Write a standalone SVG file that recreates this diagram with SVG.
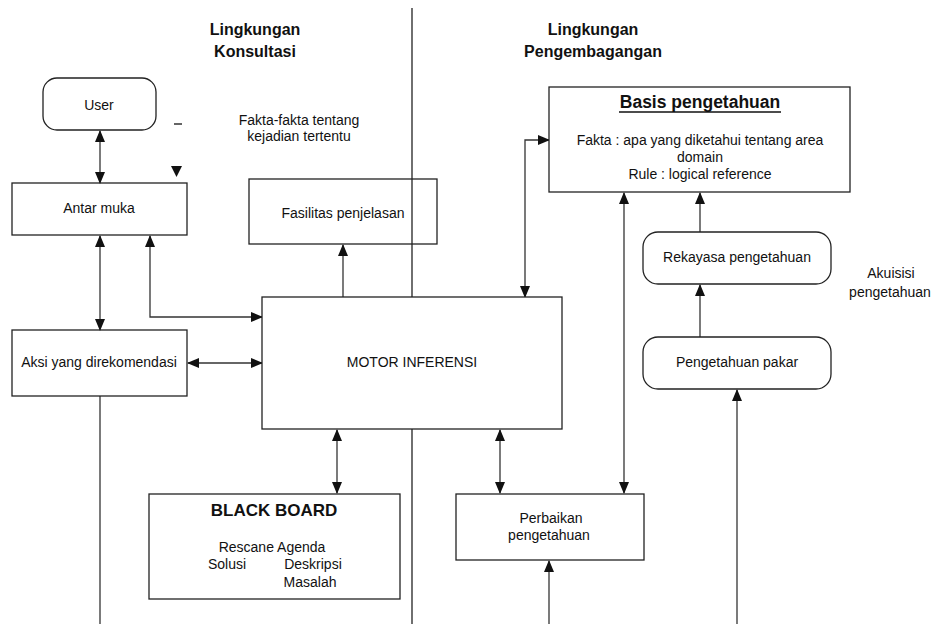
<svg xmlns="http://www.w3.org/2000/svg" width="932" height="625" viewBox="0 0 932 625">
<style>
  text { font-family: "Liberation Sans", Arial, sans-serif; fill: #111; }
  .t { font-size: 14px; text-anchor: middle; }
  .h { font-size: 16px; font-weight: bold; text-anchor: middle; }
  .hb { font-size: 17px; font-weight: bold; text-anchor: middle; }
  .box { fill: none; stroke: #222; stroke-width: 1.3; }
  .boxw { fill: #fff; stroke: #222; stroke-width: 1.3; }
  .c { fill: none; stroke: #333; stroke-width: 1.3; }
  .div { fill: none; stroke: #222; stroke-width: 1.3; }
</style>
<defs>
  <marker id="ah" markerUnits="userSpaceOnUse" markerWidth="12" markerHeight="10" refX="11" refY="5" orient="auto-start-reverse" viewBox="0 0 12 10">
    <path d="M0,0 L12,5 L0,10 Z" fill="#111"/>
  </marker>
</defs>

<!-- divider -->
<line class="div" x1="412" y1="8" x2="412" y2="624"/>

<!-- titles -->
<text class="h" x="255" y="35">Lingkungan</text>
<text class="h" x="255" y="57">Konsultasi</text>
<text class="h" x="593" y="35">Lingkungan</text>
<text class="h" x="593" y="57">Pengembagangan</text>

<text class="t" x="299" y="125">Fakta-fakta tentang</text>
<text class="t" x="299" y="141">kejadian tertentu</text>

<text class="t" x="891" y="278">Akuisisi</text>
<text class="t" x="890" y="297">pengetahuan</text>

<!-- stray marks -->
<line x1="174" y1="124" x2="182" y2="124" stroke="#111" stroke-width="1.3"/>
<polygon points="171,166 182,166 176.5,177" fill="#111"/>

<!-- connectors -->
<g id="connectors">
  <line class="c" x1="100" y1="131" x2="100" y2="183" marker-start="url(#ah)" marker-end="url(#ah)"/>
  <line class="c" x1="100" y1="236" x2="100" y2="330" marker-start="url(#ah)" marker-end="url(#ah)"/>
  <path class="c" d="M150,236 L150,317 L262,317" marker-start="url(#ah)" marker-end="url(#ah)"/>
  <line class="c" x1="188" y1="363" x2="262" y2="363" marker-start="url(#ah)" marker-end="url(#ah)"/>
  <line class="c" x1="343" y1="297" x2="343" y2="245" marker-end="url(#ah)"/>
  <line class="c" x1="100" y1="396" x2="100" y2="624"/>
  <line class="c" x1="337" y1="430" x2="337" y2="493" marker-start="url(#ah)" marker-end="url(#ah)"/>
  <path class="c" d="M525,297 L525,140 L549,140" marker-start="url(#ah)" marker-end="url(#ah)"/>
  <line class="c" x1="624" y1="193" x2="624" y2="493" marker-start="url(#ah)" marker-end="url(#ah)"/>
  <line class="c" x1="700" y1="232" x2="700" y2="193" marker-end="url(#ah)"/>
  <line class="c" x1="700" y1="337" x2="700" y2="285" marker-end="url(#ah)"/>
  <line class="c" x1="737" y1="624" x2="737" y2="390" marker-end="url(#ah)"/>
  <line class="c" x1="500" y1="430" x2="500" y2="493" marker-start="url(#ah)" marker-end="url(#ah)"/>
  <line class="c" x1="549" y1="624" x2="549" y2="561" marker-end="url(#ah)"/>
</g>

<g id="user">
  <rect class="box" x="43" y="78" width="113" height="52" rx="14"/>
  <text class="t" x="99" y="110">User</text>
</g>
<g id="antarmuka">
  <rect class="box" x="12" y="183" width="175" height="52"/>
  <text class="t" x="99" y="213">Antar muka</text>
</g>
<g id="fasilitas">
  <rect class="box" x="249" y="179" width="188" height="65"/>
  <text class="t" x="343" y="218">Fasilitas penjelasan</text>
</g>
<g id="motor">
  <rect class="boxw" x="262" y="297" width="300" height="132"/>
  <text class="t" x="412" y="367">MOTOR INFERENSI</text>
</g>
<g id="aksi">
  <rect class="box" x="12" y="330" width="175" height="66"/>
  <text class="t" x="99" y="367">Aksi yang direkomendasi</text>
</g>
<g id="blackboard">
  <rect class="boxw" x="149" y="494" width="251" height="105"/>
  <text class="hb" x="274" y="516">BLACK BOARD</text>
  <text class="t" x="272" y="552">Rescane Agenda</text>
  <text class="t" x="227" y="569">Solusi</text>
  <text class="t" x="313" y="569">Deskripsi</text>
  <text class="t" x="310" y="587">Masalah</text>
</g>
<g id="basis">
  <rect class="boxw" x="549" y="87" width="301" height="105"/>
  <text class="hb" x="700" y="108" style="font-size:17.5px">Basis pengetahuan</text>
  <line x1="619" y1="112" x2="781" y2="112" stroke="#111" stroke-width="1.3"/>
  <text class="t" x="700" y="145">Fakta : apa yang diketahui tentang area</text>
  <text class="t" x="700" y="162">domain</text>
  <text class="t" x="700" y="179">Rule : logical reference</text>
</g>
<g id="rekayasa">
  <rect class="boxw" x="643" y="232" width="188" height="52" rx="15"/>
  <text class="t" x="737" y="262">Rekayasa pengetahuan</text>
</g>
<g id="pakar">
  <rect class="boxw" x="643" y="337" width="188" height="52" rx="15"/>
  <text class="t" x="737" y="367">Pengetahuan pakar</text>
</g>
<g id="perbaikan">
  <rect class="boxw" x="456" y="494" width="188" height="66"/>
  <text class="t" x="551" y="523">Perbaikan</text>
  <text class="t" x="549" y="540">pengetahuan</text>
</g>
</svg>
